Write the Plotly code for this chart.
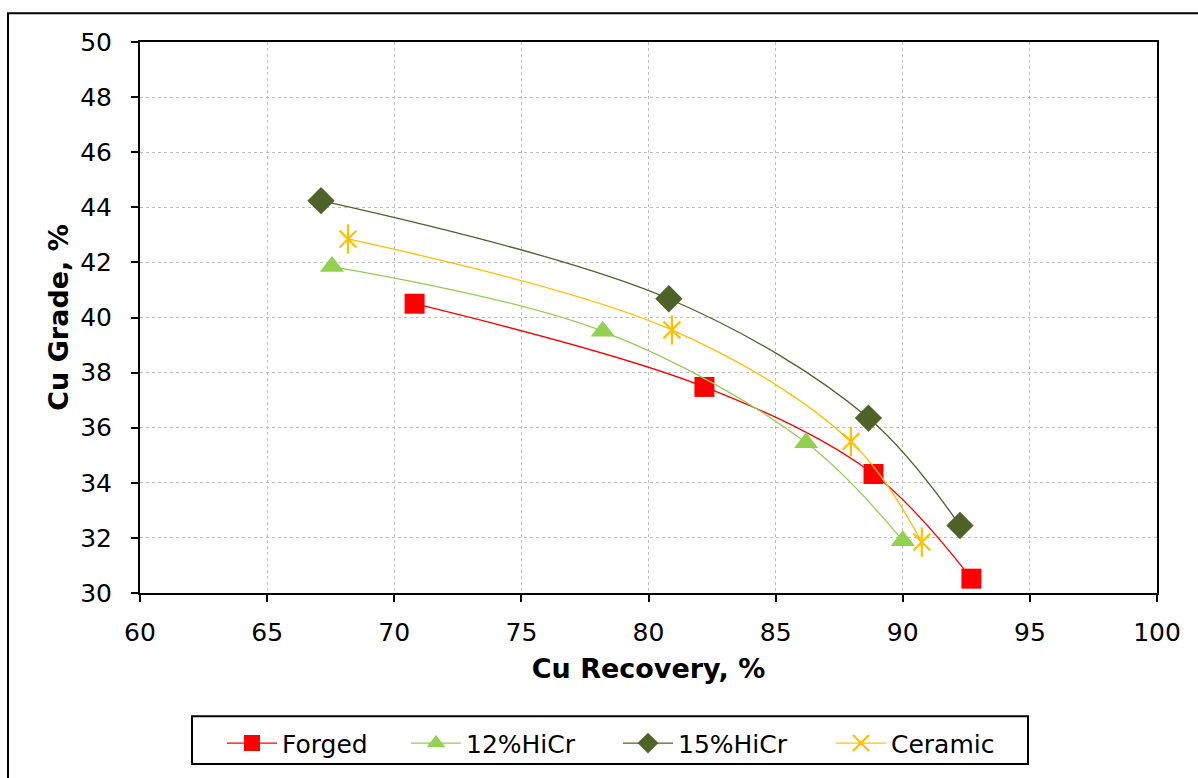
import plotly.graph_objects as go

# Data
forged_x = [70.8, 82.2, 88.85, 92.7]
forged_y = [40.5, 37.48, 34.32, 30.52]

hicr12_x = [67.55, 78.2, 86.2, 90.0]
hicr12_y = [41.85, 39.5, 35.45, 31.9]

hicr15_x = [67.12, 80.8, 88.65, 92.25]
hicr15_y = [44.24, 40.68, 36.35, 32.45]

ceramic_x = [68.18, 80.92, 87.96, 90.75]
ceramic_y = [42.85, 39.55, 35.5, 31.85]

x_ticks = [60, 65, 70, 75, 80, 85, 90, 95, 100]
y_ticks = [30, 32, 34, 36, 38, 40, 42, 44, 46, 48, 50]

FONT = "DejaVu Sans"
W, H = 1198, 778
L, R, T, B = 140, 41, 42, 182
PW, PH = W - L - R, H - T - B


def px_x(p):
    return (p - L) / PW


def px_y(p):
    return (H - B - p) / PH


fig = go.Figure()

fig.add_trace(go.Scatter(
    x=forged_x, y=forged_y, name="Forged", mode="lines+markers",
    line=dict(color="#FF0000", width=1.3, shape="spline", smoothing=1),
    marker=dict(symbol="square", size=20, color="#FF0000"),
    legend="legend",
))
fig.add_trace(go.Scatter(
    x=hicr12_x, y=hicr12_y, name="12%HiCr", mode="lines+markers",
    line=dict(color="#92D050", width=1.3, shape="spline", smoothing=1),
    marker=dict(symbol="triangle-up", size=21, color="#92D050"),
    legend="legend2",
))
fig.add_trace(go.Scatter(
    x=hicr15_x, y=hicr15_y, name="15%HiCr", mode="lines+markers",
    line=dict(color="#4F6228", width=1.3, shape="spline", smoothing=1),
    marker=dict(symbol="diamond", size=21, color="#4F6228"),
    legend="legend3",
))
fig.add_trace(go.Scatter(
    x=ceramic_x, y=ceramic_y, name="Ceramic", mode="lines+markers",
    line=dict(color="#FFC000", width=1.3, shape="spline", smoothing=1),
    marker=dict(symbol="x-thin-open", size=17, color="#FFC000",
                line=dict(color="#FFC000", width=2.2)),
    legendgroup="ceramic", legend="legend4",
))
fig.add_trace(go.Scatter(
    x=ceramic_x, y=ceramic_y, name="Ceramic", mode="markers",
    marker=dict(symbol="line-ns-open", size=21, color="#FFC000",
                line=dict(color="#FFC000", width=2.2)),
    legendgroup="ceramic", showlegend=False, hoverinfo="skip", legend="legend4",
))

axis_common = dict(
    showline=True, linecolor="black", linewidth=2, mirror=True,
    ticks="outside", ticklen=7, tickwidth=2, tickcolor="black",
    showgrid=True, gridcolor="#BFBFBF", gridwidth=1, griddash="dot",
    zeroline=False,
    tickfont=dict(family=FONT, size=25, color="black"),
)

fig.update_xaxes(
    range=[60, 100], tickvals=x_ticks, ticktext=[str(v) for v in x_ticks],
    ticklabelstandoff=9,
    title=dict(text="<b>Cu Recovery, %</b>", font=dict(family=FONT, size=27, color="black"), standoff=13),
    **axis_common,
)
fig.update_yaxes(
    range=[30, 50], tickvals=y_ticks, ticktext=[str(v) for v in y_ticks],
    ticklabelstandoff=14,
    title=dict(text="<b>Cu Grade, %</b>", font=dict(family=FONT, size=27, color="black"), standoff=4),
    **axis_common,
)

# outer chart border
fig.add_shape(type="rect", xref="paper", yref="paper",
              x0=px_x(8), x1=1.2, y0=-0.5, y1=px_y(13),
              line=dict(color="black", width=2), fillcolor="rgba(0,0,0,0)", layer="below")
# legend box
fig.add_shape(type="rect", xref="paper", yref="paper",
              x0=px_x(192), x1=px_x(1028), y0=px_y(768), y1=px_y(720),
              line=dict(color="black", width=2), fillcolor="white", layer="below")


def leg(px_left):
    return dict(
        orientation="h", x=px_x(px_left), xanchor="left",
        y=px_y(724), yanchor="top",
        borderwidth=0, bgcolor="rgba(0,0,0,0)",
        font=dict(family=FONT, size=25, color="black"),
        itemwidth=50,
    )


fig.update_layout(
    width=W, height=H,
    margin=dict(l=L, r=R, t=T, b=B),
    paper_bgcolor="white", plot_bgcolor="white",
    font=dict(family=FONT, color="black"),
    showlegend=True,
    legend=leg(222),
    legend2=leg(406),
    legend3=leg(618),
    legend4=leg(831),
)

fig.write_html("out.html", config={"displayModeBar": False},
               post_script="document.body.style.margin='0px';")
